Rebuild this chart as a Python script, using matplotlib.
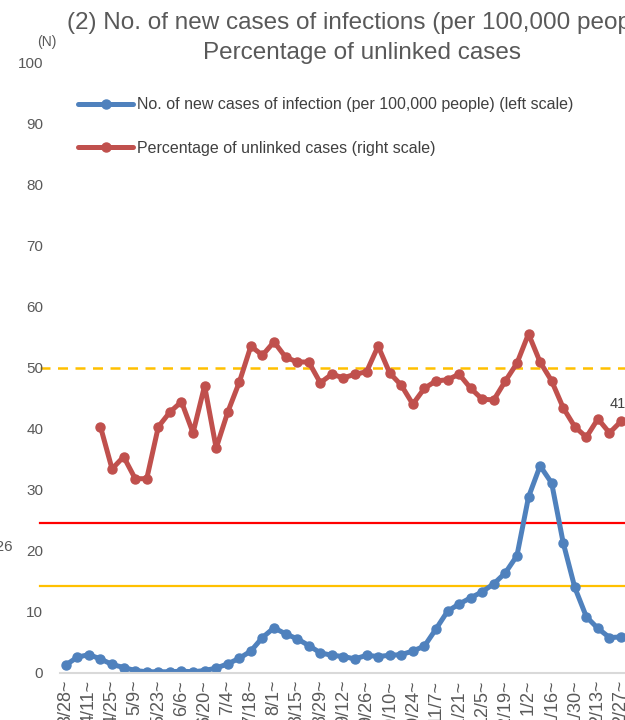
import numpy as np
import matplotlib
matplotlib.use("Agg")
import matplotlib.pyplot as plt

plt.rcParams["font.family"] = ["Liberation Sans", "DejaVu Sans"]

# weekly values, 3/28 ~ 2/27
new_cases = [1.3, 2.6, 3.0, 2.3, 1.4, 0.9, 0.4, 0.2, 0.2, 0.2,
             0.3, 0.2, 0.4, 0.8, 1.5, 2.4, 3.6, 5.8, 7.4, 6.4,
             5.6, 4.5, 3.3, 2.9, 2.7, 2.3, 2.9, 2.7, 2.9, 3.0,
             3.6, 4.4, 7.2, 10.1, 11.3, 12.3, 13.3, 14.6, 16.4, 19.2,
             28.8, 33.9, 31.1, 21.3, 14.0, 9.2, 7.3, 5.8, 5.9]

unlinked = [np.nan, np.nan, np.nan, 40.3, 33.4, 35.4, 31.8, 31.8, 40.3, 42.7,
            44.4, 39.3, 47.0, 36.8, 42.7, 47.6, 53.5, 52.0, 54.2, 51.7,
            50.9, 50.9, 47.5, 48.9, 48.3, 48.9, 49.3, 53.5, 49.1, 47.1,
            44.0, 46.6, 47.8, 48.0, 48.9, 46.6, 44.8, 44.7, 47.8, 50.7,
            55.5, 50.9, 47.8, 43.4, 40.3, 38.6, 41.6, 39.3, 41.2]

tick_labels = ["3/28~", "4/11~", "4/25~", "5/9~", "5/23~", "6/6~", "6/20~",
               "7/4~", "7/18~", "8/1~", "8/15~", "8/29~", "9/12~", "9/26~",
               "10/10~", "10/24~", "11/7~", "11/21~", "12/5~", "12/19~",
               "1/2~", "1/16~", "1/30~", "2/13~", "2/27~"]

# reference levels
level_dash = 50
level_red = 24.5
level_orange = 14.3

weeks = np.arange(len(new_cases))
gray = "#595959"
blue = "#4F81BD"
red = "#C0504D"

fig = plt.figure(figsize=(6.25, 7.2), dpi=100)
ax = fig.add_axes([60 / 625, 47 / 720, 568 / 625, 611 / 720])

ax.plot(weeks, new_cases, color=blue, lw=3.6, marker="o", ms=6.5,
        solid_capstyle="round", label="No. of new cases of infection (per 100,000 people) (left scale)")
ax.plot(weeks, unlinked, color=red, lw=3.6, marker="o", ms=6.5,
        solid_capstyle="round", label="Percentage of unlinked cases (right scale)")

x0 = -20 / 568
ax.axhline(level_dash, xmin=x0, xmax=1, color="#FFC000", lw=1.8,
           ls=(0, (4, 3)), clip_on=False, zorder=1)
ax.axhline(level_red, xmin=x0, xmax=1, color="#FF0000", lw=1.6,
           clip_on=False, zorder=1)
ax.axhline(level_orange, xmin=x0, xmax=1, color="#FFC000", lw=1.6,
           clip_on=False, zorder=1)

ax.set_xlim(-0.5, len(weeks) - 0.4)
ax.set_ylim(0, 100)
ax.set_yticks(range(0, 101, 10))
ax.set_xticks(weeks[::2])
ax.set_xticklabels(tick_labels, rotation=90, va="top", ha="center")
ax.tick_params(axis="both", length=0, colors=gray, labelsize=11)
ax.tick_params(axis="x", labelsize=13, pad=5)
ax.tick_params(axis="y", pad=12)
for s in ["top", "right", "left"]:
    ax.spines[s].set_visible(False)
ax.spines["bottom"].set_color("#D9D9D9")
ax.spines["bottom"].set_linewidth(1.5)

ax.text(len(weeks) - 2.0, unlinked[-1] + 1.6, "41.2", color="#404040",
        fontsize=10.5, ha="left", va="bottom")

leg = ax.legend(loc="upper left", bbox_to_anchor=(12 / 568, 0.953),
                frameon=False, fontsize=11.5, handlelength=3.4,
                labelspacing=1.8, handletextpad=0.3, borderaxespad=0)
for t in leg.get_texts():
    t.set_color("#404040")

fig.text(47 / 625, 1 - 42 / 720, "(N)", color=gray, fontsize=10,
         ha="center", va="center")
fig.text(362 / 625, 1 - 38 / 720,
         "(2) No. of new cases of infections (per 100,000 people)\nPercentage of unlinked cases",
         color=gray, fontsize=17.5, ha="center", va="center", linespacing=1.45)
fig.text(13 / 625, 1 - 547 / 720, "0.26", color=gray, fontsize=11,
         ha="right", va="center")

fig.savefig("out.png", dpi=100)
